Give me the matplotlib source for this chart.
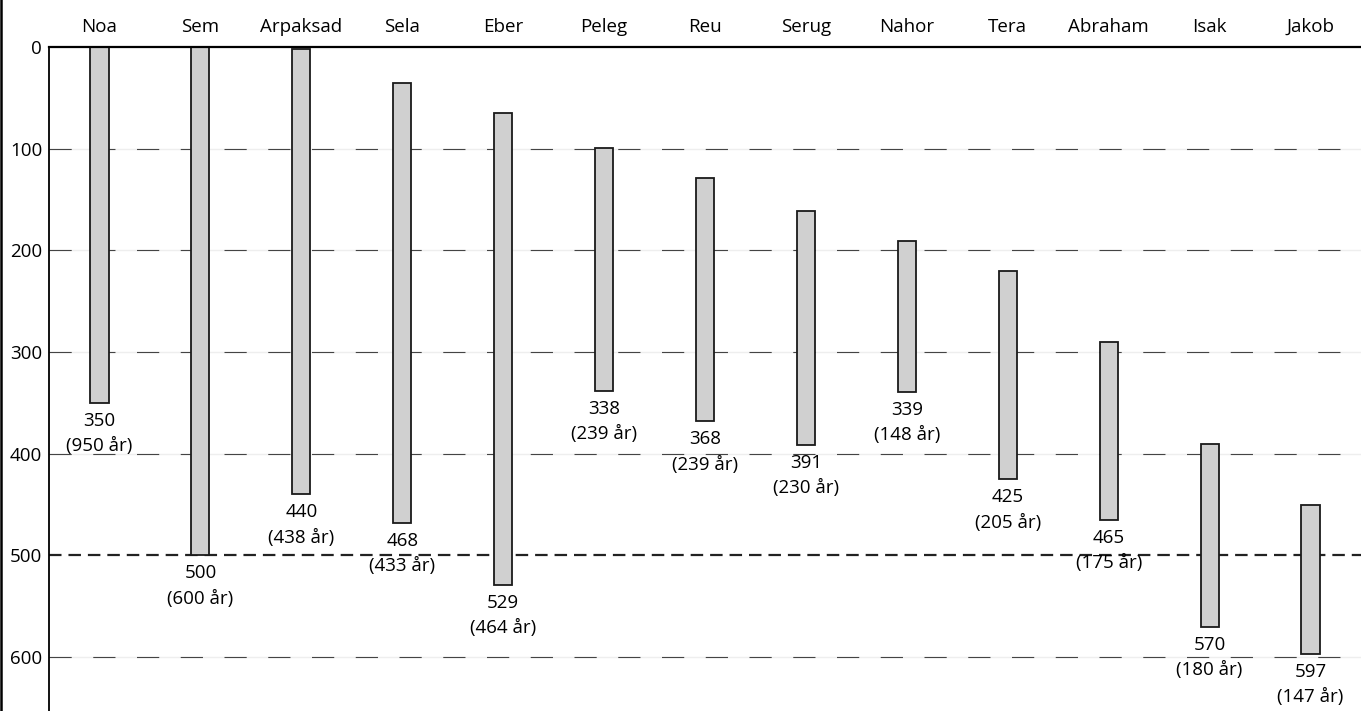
import matplotlib
matplotlib.use("Agg")
import matplotlib.pyplot as plt
from matplotlib.lines import Line2D

names = ["Noa", "Sem", "Arpaksad", "Sela", "Eber", "Peleg", "Reu", "Serug",
         "Nahor", "Tera", "Abraham", "Isak", "Jakob"]
start_year = [0, 0, 2, 35, 65, 99, 129, 161, 191, 220, 290, 390, 450]
end_year = [350, 500, 440, 468, 529, 338, 368, 391, 339, 425, 465, 570, 597]
lifespan = [950, 600, 438, 433, 464, 239, 239, 230, 148, 205, 175, 180, 147]
y_ticks = [0, 100, 200, 300, 400, 500, 600]

plt.rcParams["font.family"] = ["Open Sans", "DejaVu Sans"]
plt.rcParams["lines.scale_dashes"] = False

W, H = 1361, 711
fig = plt.figure(figsize=(W / 100, H / 100), dpi=100)
ax = fig.add_axes([49 / W, 0, (W - 49) / W, (H - 47) / H])

xs = list(range(len(names)))
heights = [e - s for s, e in zip(start_year, end_year)]

# grid lines
for t in y_ticks[1:]:
    if t == 500:
        ax.axhline(t, color="#222222", lw=1.6, dashes=(9, 5), zorder=1)
    else:
        ax.axhline(t, color="#eeeeee", lw=1.0, zorder=0.5)
        ax.axhline(t, color="#444444", lw=0.8, dashes=(16, 15.5), zorder=1)

ax.bar(xs, heights, bottom=start_year, width=0.18, color="#d0d0d0",
       edgecolor="#1a1a1a", linewidth=1.3, zorder=2)

for x, e, l in zip(xs, end_year, lifespan):
    ax.annotate(f"{e}\n({l} år)", xy=(x, e), xytext=(0, -6.5),
                textcoords="offset points", ha="center", va="top",
                fontsize=13.5, linespacing=1.52, zorder=3)

ax.set_xlim(-0.5, 12.5)
ax.set_ylim(653, 0)
ax.set_yticks(y_ticks)
ax.set_yticklabels([str(t) for t in y_ticks], fontsize=13.5)
ax.xaxis.tick_top()
ax.set_xticks(xs)
ax.set_xticklabels(names, fontsize=13.5)
ax.tick_params(axis="y", length=0, pad=5)
ax.tick_params(axis="x", length=0, pad=8)
for s in ["right", "bottom"]:
    ax.spines[s].set_visible(False)
ax.spines["top"].set_linewidth(1.6)
ax.spines["left"].set_linewidth(1.3)

fig.add_artist(Line2D([1 / W, 1 / W], [0, 1], color="black", lw=1.8,
                      transform=fig.transFigure))

fig.savefig("out.png", dpi=100)
